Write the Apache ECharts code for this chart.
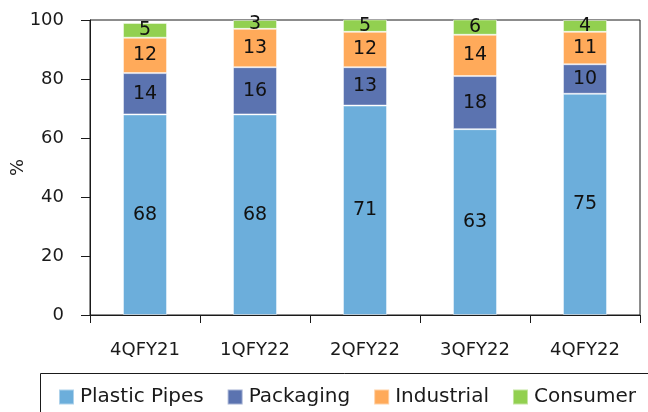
<!DOCTYPE html>
<html>
<head>
<meta charset="utf-8">
<style>
  html, body { margin: 0; padding: 0; background: #fff; }
  #chart { width: 648px; height: 412px; }
</style>
<script src="https://cdn.jsdelivr.net/npm/echarts@6/dist/echarts.min.js"></script>
</head>
<body>
<div id="chart"></div>
<script>
// Segment mix by quarter (% of revenue)
const quarters = ['4QFY21', '1QFY22', '2QFY22', '3QFY22', '4QFY22'];
const plasticPipes = [68, 68, 71, 63, 75];
const packaging = [14, 16, 13, 18, 10];
const industrial = [12, 13, 12, 14, 11];
const consumer = [5, 3, 5, 6, 4];
const yTicks = [0, 20, 40, 60, 80, 100];

const FONT = '"DejaVu Sans", "Noto Sans", sans-serif';
const INK = '#1a1a1a';

const segments = [
  { name: 'Plastic Pipes', data: plasticPipes, color: '#6CAEDB' },
  { name: 'Packaging', data: packaging, color: '#5B73B0' },
  { name: 'Industrial', data: industrial, color: '#FFAA5A' },
  { name: 'Consumer', data: consumer, color: '#92D050' }
];

const chart = echarts.init(document.getElementById('chart'), null, { renderer: 'canvas' });

chart.setOption({
  animation: false,
  backgroundColor: '#fff',
  textStyle: { fontFamily: FONT },
  grid: {
    left: 90, right: 8, top: 20, bottom: 97,
    containLabel: false,
    outerBoundsMode: 'none',
    show: true, borderColor: INK, borderWidth: 1, backgroundColor: 'transparent'
  },
  // frame around the legend row, running off the lower-right edge
  graphic: [{
    type: 'rect',
    z: 0,
    shape: { x: 40.5, y: 373.5, width: 640, height: 60 },
    style: { fill: 'transparent', stroke: INK, lineWidth: 1 }
  }],
  legend: {
    left: 53, top: 382,
    padding: 5,
    itemWidth: 15, itemHeight: 15, itemGap: 23,
    icon: 'rect',
    textStyle: { fontFamily: FONT, fontSize: 20, color: INK, padding: [0, 0, 0, 1] },
    data: segments.map(s => s.name)
  },
  xAxis: {
    type: 'category',
    data: quarters,
    axisLine: { lineStyle: { color: INK, width: 1 } },
    axisTick: { show: true, length: 8, lineStyle: { color: INK } },
    axisLabel: { fontFamily: FONT, fontSize: 18, color: INK, margin: 26 }
  },
  yAxis: {
    type: 'value',
    min: 0, max: 100, interval: yTicks[1] - yTicks[0],
    name: '%',
    nameLocation: 'middle',
    nameRotate: 90,
    nameGap: 63,
    nameMoveOverlap: false,
    nameTextStyle: { fontFamily: FONT, fontSize: 18, color: INK },
    axisLine: { show: true, lineStyle: { color: INK, width: 1 } },
    axisTick: { show: true, length: 9, lineStyle: { color: INK } },
    splitLine: { show: false },
    axisLabel: {
      fontFamily: FONT, fontSize: 18, color: INK, margin: 26,
      formatter: v => (yTicks.includes(v) ? String(v) : '')
    }
  },
  series: segments.map(s => ({
    name: s.name,
    type: 'bar',
    stack: 'mix',
    barWidth: '40%',
    data: s.data,
    itemStyle: { color: s.color, borderColor: 'rgba(255,255,255,0.45)', borderWidth: 1 },
    label: {
      show: true,
      position: 'inside',
      fontFamily: FONT,
      fontSize: 19,
      color: '#111'
    }
  }))
});
</script>
</body>
</html>
